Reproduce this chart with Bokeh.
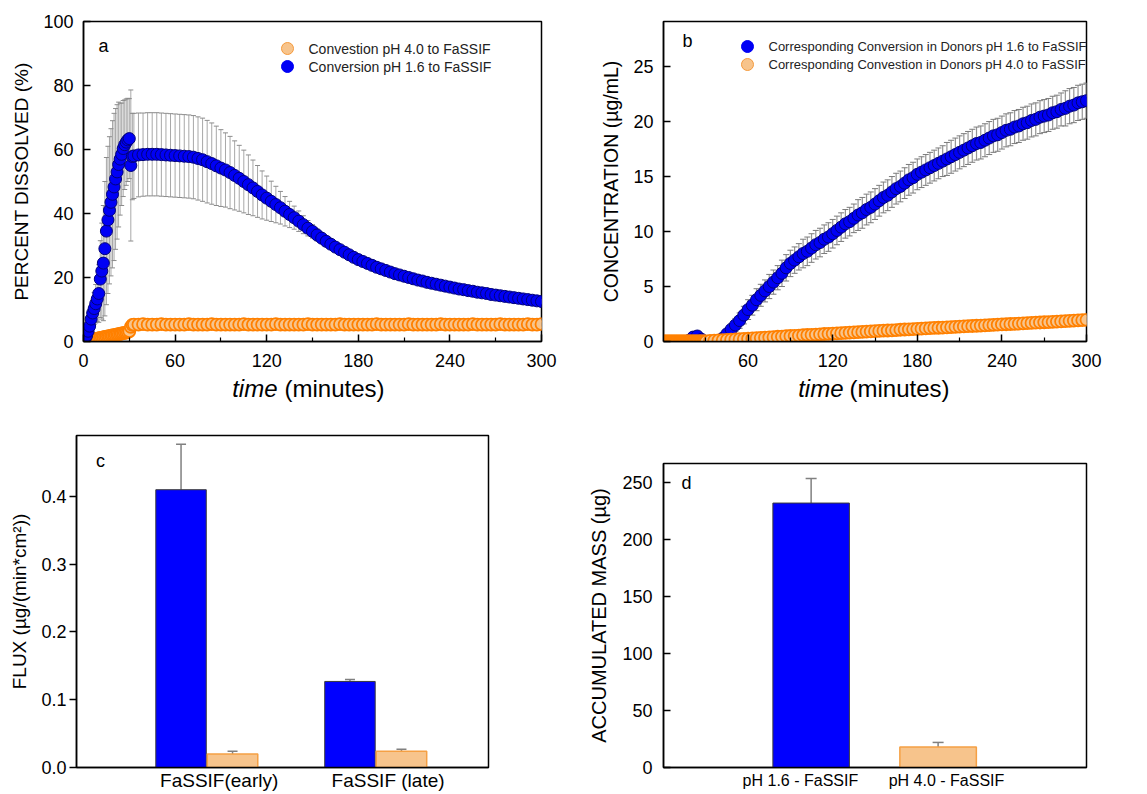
from bokeh.plotting import figure
from bokeh.layouts import column, row
from bokeh.models import (Range1d, FixedTicker, Whisker, TeeHead, ColumnDataSource,
                          Label, NumeralTickFormatter)
from bokeh.core.properties import value
from bokeh.embed import file_html
from bokeh.resources import INLINE

FONT = "Liberation Sans"

# ---------------- DATA ----------------
# Panel a : percent dissolved vs time (minutes)
a_t_early = list(range(0, 31))
a_blue_early = [0.0, 0.6, 1.8, 3.2, 4.8, 7.0, 8.9, 10.3, 11.8, 13.3, 15.0, 19.5, 22.0, 24.5, 29.0,
                34.5, 38.0, 41.0, 43.5, 46.0, 48.3, 50.8, 53.0, 55.3, 57.0, 58.5, 60.3, 61.5, 62.3,
                63.0, 63.4]
a_blue_early_err = [0.0, 0.5, 1.0, 1.5, 2.0, 3.0, 4.0, 5.0, 6.0, 7.0, 9.0,
                    12.0, 15.0, 18.0, 21.0, 23.0, 23.0, 23.0, 23.0, 23.0, 23.0,
                    22.0, 21.0, 19.5, 17.5, 16.0, 15.0, 14.0, 13.5, 13.0, 12.5]
a_orange_early = [0.0, 0.1, 0.2, 0.3, 0.4, 0.5, 0.6, 0.7, 0.8, 0.9, 1.0, 1.1, 1.2, 1.3, 1.4, 1.5,
                  1.6, 1.7, 1.8, 1.9, 2.0, 2.1, 2.2, 2.3, 2.4, 2.5, 2.6, 2.7, 2.8, 2.9, 3.2]
a_t_jump = [31, 32]
a_blue_jump = [55.0, 57.8]
a_blue_jump_err = [23.6, 13.5]
a_orange_jump = [4.6, 5.2]
a_t_late = list(range(33, 301, 3))
a_blue_late = [58.0, 58.3, 58.4, 58.5, 58.5, 58.5, 58.4, 58.3, 58.2, 58.1,
               58.0, 57.9, 57.8, 57.6, 57.2, 56.8, 56.2, 55.6, 54.9, 54.2,
               53.6, 52.8, 51.9, 51.0, 50.0, 49.0, 48.0, 46.9, 45.8, 44.8,
               43.8, 42.8, 41.8, 40.7, 39.7, 38.7, 37.6, 36.5, 35.4, 34.4,
               33.3, 32.3, 31.3, 30.4, 29.5, 28.7, 27.9, 27.1, 26.3, 25.6,
               25.0, 24.4, 23.8, 23.2, 22.7, 22.2, 21.7, 21.2, 20.8, 20.4,
               20.0, 19.6, 19.2, 18.9, 18.5, 18.2, 17.9, 17.6, 17.3, 17.0,
               16.7, 16.4, 16.2, 15.9, 15.7, 15.4, 15.2, 15.0, 14.7, 14.5,
               14.3, 14.1, 13.9, 13.7, 13.5, 13.3, 13.1, 12.9, 12.7, 12.5]
a_blue_late_err = [13.3, 13.1, 13.0, 13.0, 13.0, 13.0, 13.0, 13.0, 13.0, 13.0,
                   13.0, 13.0, 13.0, 13.0, 13.0, 13.0, 12.9, 12.7, 12.4, 12.0,
                   11.6, 11.3, 10.8, 10.3, 9.8, 9.3, 8.7, 8.1, 7.5, 6.9,
                   6.3, 5.7, 5.1, 4.6, 4.1, 3.6, 3.2, 2.8, 2.4, 2.1,
                   1.9, 1.7, 1.5, 1.4, 1.3, 1.2, 1.1, 1.0, 1.0, 0.9,
                   0.9, 0.9, 0.9, 0.8, 0.8, 0.8, 0.8, 0.8, 0.8, 0.8,
                   0.8, 0.7, 0.7, 0.7, 0.7, 0.7, 0.7, 0.7, 0.7, 0.7,
                   0.7, 0.7, 0.6, 0.6, 0.6, 0.6, 0.6, 0.6, 0.6, 0.6,
                   0.6, 0.6, 0.6, 0.6, 0.6, 0.6, 0.6, 0.6, 0.6, 0.6]
a_orange_late = [5.3, 5.3, 5.4, 5.3, 5.3, 5.3, 5.4, 5.3, 5.3, 5.3,
                 5.3, 5.3, 5.4, 5.3, 5.3, 5.3, 5.3, 5.4, 5.3, 5.3,
                 5.3, 5.3, 5.3, 5.3, 5.4, 5.3, 5.3, 5.3, 5.3, 5.3,
                 5.3, 5.4, 5.3, 5.3, 5.3, 5.3, 5.3, 5.3, 5.4, 5.3,
                 5.3, 5.3, 5.3, 5.3, 5.3, 5.4, 5.3, 5.3, 5.3, 5.3,
                 5.3, 5.3, 5.3, 5.4, 5.3, 5.3, 5.3, 5.3, 5.3, 5.3,
                 5.4, 5.3, 5.3, 5.3, 5.3, 5.3, 5.3, 5.4, 5.3, 5.3,
                 5.3, 5.3, 5.3, 5.3, 5.4, 5.3, 5.3, 5.3, 5.3, 5.3,
                 5.4, 5.3, 5.3, 5.3, 5.3, 5.3, 5.4, 5.3, 5.3, 5.4]
a_series_names = ["Convestion pH 4.0  to FaSSIF", "Conversion pH 1.6  to FaSSIF"]

# Panel b : concentration in donors vs time (minutes)
b_t = list(range(0, 301, 3))
b_blue = [0.0, 0.0, 0.0, 0.0, 0.0, 0.0, 0.1, 0.4, 0.5, 0.2, 0.0,
          -0.2, -0.3, -0.1, 0.3, 0.7, 1.1, 1.5, 1.9, 2.4, 2.9,
          3.3, 3.8, 4.2, 4.6, 5.0, 5.4, 5.8, 6.2, 6.7, 7.1,
          7.4, 7.7, 8.0, 8.2, 8.5, 8.8, 9.0, 9.3, 9.5, 9.8,
          10.1, 10.4, 10.7, 10.9, 11.2, 11.5, 11.7, 12.0, 12.2, 12.5,
          12.8, 13.1, 13.3, 13.6, 13.9, 14.1, 14.4, 14.7, 14.9, 15.2,
          15.4, 15.6, 15.8, 16.0, 16.2, 16.4, 16.6, 16.8, 17.0, 17.2,
          17.4, 17.6, 17.8, 18.0, 18.1, 18.3, 18.5, 18.7, 18.8, 19.0,
          19.2, 19.3, 19.5, 19.6, 19.8, 19.9, 20.1, 20.2, 20.4, 20.5,
          20.6, 20.8, 20.9, 21.1, 21.2, 21.4, 21.5, 21.7, 21.8, 21.9]
b_blue_err = [0.1, 0.1, 0.1, 0.1, 0.1, 0.1, 0.1, 0.1, 0.1, 0.1, 0.1,
              0.1, 0.1, 0.2, 0.3, 0.4, 0.5, 0.6, 0.7, 0.8, 0.9,
              0.9, 1.0, 1.0, 1.0, 1.1, 1.1, 1.1, 1.2, 1.2, 1.2,
              1.2, 1.2, 1.3, 1.3, 1.3, 1.3, 1.3, 1.3, 1.3, 1.3,
              1.3, 1.3, 1.3, 1.3, 1.3, 1.4, 1.4, 1.4, 1.4, 1.4,
              1.4, 1.4, 1.4, 1.4, 1.4, 1.4, 1.4, 1.4, 1.4, 1.4,
              1.4, 1.4, 1.4, 1.4, 1.4, 1.4, 1.5, 1.5, 1.5, 1.5,
              1.5, 1.5, 1.5, 1.5, 1.5, 1.5, 1.5, 1.5, 1.5, 1.5,
              1.5, 1.5, 1.5, 1.5, 1.5, 1.5, 1.5, 1.5, 1.5, 1.5,
              1.5, 1.5, 1.5, 1.5, 1.6, 1.6, 1.6, 1.6, 1.6, 1.6]
b_t_orange_early = list(range(0, 31))
b_orange_early = [0.0, 0.0, 0.0, 0.0, 0.0, 0.0, 0.0, 0.0, 0.0, 0.0, 0.0,
                  0.0, 0.0, 0.0, 0.0, 0.0, 0.0, 0.0, 0.0, 0.0, 0.0,
                  0.0, 0.0, 0.0, 0.0, 0.0, 0.0, 0.0, 0.0, 0.0, 0.0]
b_t_orange_late = list(range(33, 301, 3))
b_orange_late = [0.05, 0.08, 0.10, 0.12, 0.15, 0.17, 0.19, 0.21, 0.23, 0.25,
                 0.28, 0.30, 0.33, 0.35, 0.38, 0.40, 0.43, 0.45, 0.48, 0.50,
                 0.52, 0.54, 0.57, 0.59, 0.61, 0.63, 0.65, 0.68, 0.70, 0.72,
                 0.74, 0.76, 0.79, 0.81, 0.83, 0.85, 0.87, 0.90, 0.92, 0.94,
                 0.96, 0.98, 1.00, 1.02, 1.04, 1.07, 1.09, 1.11, 1.13, 1.15,
                 1.17, 1.19, 1.21, 1.23, 1.25, 1.27, 1.29, 1.31, 1.33, 1.35,
                 1.37, 1.39, 1.41, 1.43, 1.45, 1.47, 1.49, 1.51, 1.53, 1.55,
                 1.57, 1.59, 1.61, 1.63, 1.65, 1.67, 1.69, 1.71, 1.73, 1.75,
                 1.77, 1.79, 1.81, 1.83, 1.85, 1.88, 1.90, 1.92, 1.95, 1.97]
b_series_names = ["Corresponding Conversion in Donors pH 1.6 to FaSSIF",
                  "Corresponding Convestion in Donors pH 4.0  to FaSSIF"]

# Panel c : flux
c_categories = ["FaSSIF(early)", "FaSSIF (late)"]
c_flux_blue = [0.410, 0.127]
c_flux_blue_err = [0.067, 0.003]
c_flux_orange = [0.020, 0.024]
c_flux_orange_err = [0.004, 0.003]

# Panel d : accumulated mass
d_categories = ["pH 1.6 - FaSSIF", "pH 4.0 - FaSSIF"]
d_mass = [232.0, 18.0]
d_mass_err = [21.5, 4.0]

# ---------------- STYLE / LAYOUT ----------------
BLUE_FILL = "#0000f5"
BLUE_LINE = "#00007a"
ORANGE_FILL = "#f7c48c"
ORANGE_LINE = "#ff8000"
LEG_ORANGE_LINE = "#f59a3c"
ERR_A = "#a8a8a8"
ERR_B = "#949494"

# frames in page pixels
FA = dict(left=83, top=21, right=541, bottom=341, xr=(0, 300), yr=(0, 100))
FB = dict(left=663, top=21, right=1086, bottom=341, xr=(0, 300), yr=(0, 29.1))
FC = dict(left=76, top=435, right=488, bottom=767, xr=(0, 8), yr=(0, 0.49))
FD = dict(left=663, top=463, right=1086, bottom=767, xr=(0, 5.53), yr=(0, 266.7))
LEFT_W, RIGHT_X, RIGHT_END = 580, 580, 1145
TOP_END, STRIP_END, PAGE_END = 375, 402, 792


def to_data(fr, px, py):
    x = fr["xr"][0] + (px - fr["left"]) / (fr["right"] - fr["left"]) * (fr["xr"][1] - fr["xr"][0])
    y = fr["yr"][0] + (fr["bottom"] - py) / (fr["bottom"] - fr["top"]) * (fr["yr"][1] - fr["yr"][0])
    return x, y


def make_fig(fr, fig_left, fig_top, fig_right, fig_bottom):
    p = figure(frame_width=fr["right"] - fr["left"], frame_height=fr["bottom"] - fr["top"],
               min_border_left=fr["left"] - fig_left, min_border_right=fig_right - fr["right"],
               min_border_top=fr["top"] - fig_top, min_border_bottom=fig_bottom - fr["bottom"],
               x_range=Range1d(*fr["xr"]), y_range=Range1d(*fr["yr"]),
               output_backend="svg", toolbar_location=None, tools="")
    p.grid.visible = False
    p.outline_line_color = "black"
    p.outline_line_width = 1.5
    p.outline_line_alpha = 1.0
    p.background_fill_color = "white"
    p.border_fill_color = "white"
    for ax in [p.xaxis[0], p.yaxis[0]]:
        ax.axis_line_color = "black"
        ax.axis_line_width = 1.5
        ax.major_tick_line_color = "black"
        ax.major_tick_line_width = 1.5
        ax.minor_tick_line_color = "black"
        ax.minor_tick_line_width = 1.2
        ax.major_label_text_font = FONT
        ax.major_label_text_font_size = "18px"
        ax.major_label_text_color = "black"
        ax.axis_label_text_font = FONT
        ax.axis_label_text_font_style = "normal"
        ax.axis_label_text_color = "black"
    return p


def make_strip(width, height):
    s = figure(frame_width=width, frame_height=height, min_border=0, min_border_left=0,
               min_border_right=0, min_border_top=0, min_border_bottom=0,
               x_range=Range1d(0, width), y_range=Range1d(height, 0),
               x_axis_type=None, y_axis_type=None,
               output_backend="svg", toolbar_location=None, tools="")
    s.grid.visible = False
    s.outline_line_color = None
    s.background_fill_color = "white"
    s.border_fill_color = "white"
    return s


def text(p, fr, px, py, s, size, align="left", style="normal", color="black"):
    x, y = to_data(fr, px, py)
    p.add_layout(Label(x=x, y=y, text=s, text_font=FONT, text_font_size=size,
                       text_font_style=style, text_align=align, text_baseline="middle",
                       text_color=color))


def legend_marker(p, fr, px, py, fill, line):
    x, y = to_data(fr, px, py)
    p.scatter(x=[x], y=[y], size=12, marker="circle", fill_color=fill, line_color=line, line_width=1)


def time_axis(p, labels, minor):
    ax = p.xaxis[0]
    ax.ticker = FixedTicker(ticks=labels, minor_ticks=minor)
    ax.major_tick_in = 7
    ax.major_tick_out = 0
    ax.minor_tick_in = 4
    ax.minor_tick_out = 0
    ax.major_label_standoff = 12


def time_title(s, right_of_time, left_of_minutes, cy):
    s.text(x=[right_of_time], y=[cy], text=["time"], text_font=value(FONT), text_font_size="24px",
           text_font_style="italic", text_align="right", text_baseline="middle", text_color="black")
    s.text(x=[left_of_minutes], y=[cy], text=["(minutes)"], text_font=value(FONT),
           text_font_size="24px", text_font_style="normal", text_align="left",
           text_baseline="middle", text_color="black")


# ---------------- PANEL A ----------------
pa = make_fig(FA, 0, 0, LEFT_W, TOP_END)
time_axis(pa, [0, 60, 120, 180, 240, 300], [30, 90, 150, 210, 270])
ya = pa.yaxis[0]
ya.ticker = FixedTicker(ticks=[0, 20, 40, 60, 80, 100])
ya.major_tick_in = 7
ya.major_tick_out = 0
ya.minor_tick_in = 0
ya.minor_tick_out = 0
ya.major_label_standoff = 10
ya.axis_label = "PERCENT DISSOLVED (%)"
ya.axis_label_text_font_size = "19px"
ya.axis_label_standoff = 8

a_t_all = a_t_early + a_t_jump + a_t_late
a_blue_all = a_blue_early + a_blue_jump + a_blue_late
a_err_all = a_blue_early_err + a_blue_jump_err + a_blue_late_err
a_orange_all = a_orange_early + a_orange_jump + a_orange_late
src_a_err = ColumnDataSource(dict(
    x=a_t_all,
    lower=[m - e for m, e in zip(a_blue_all, a_err_all)],
    upper=[m + e for m, e in zip(a_blue_all, a_err_all)]))
pa.add_layout(Whisker(source=src_a_err, base="x", lower="lower", upper="upper", dimension="height",
                      line_color=ERR_A, line_width=1, level="underlay",
                      upper_head=TeeHead(size=5, line_color="#8c8c8c", line_width=1),
                      lower_head=TeeHead(size=5, line_color="#8c8c8c", line_width=1)))
pa.scatter(x=a_t_all, y=a_orange_all, size=12, marker="circle", fill_color=ORANGE_FILL,
           line_color=ORANGE_LINE, line_width=1.8)
pa.scatter(x=a_t_all, y=a_blue_all, size=12, marker="circle", fill_color=BLUE_FILL,
           line_color=BLUE_LINE, line_width=1)

legend_marker(pa, FA, 287, 48, ORANGE_FILL, LEG_ORANGE_LINE)
legend_marker(pa, FA, 287, 66, BLUE_FILL, BLUE_FILL)
text(pa, FA, 308, 48, a_series_names[0], "14px", color="#222222")
text(pa, FA, 308, 66, a_series_names[1], "14px", color="#222222")
text(pa, FA, 103, 45, "a", "18px", align="center")

# ---------------- PANEL B ----------------
pb = make_fig(FB, RIGHT_X, 0, RIGHT_END, TOP_END)
time_axis(pb, [60, 120, 180, 240, 300], [30, 90, 150, 210, 270])
yb = pb.yaxis[0]
yb.ticker = FixedTicker(ticks=[0, 5, 10, 15, 20, 25])
yb.major_tick_in = 7
yb.major_tick_out = 0
yb.minor_tick_in = 0
yb.minor_tick_out = 0
yb.major_label_standoff = 10
yb.axis_label = "CONCENTRATION (µg/mL)"
yb.axis_label_text_font_size = "19.5px"
yb.axis_label_standoff = 8

src_b_err = ColumnDataSource(dict(
    x=b_t,
    lower=[m - e for m, e in zip(b_blue, b_blue_err)],
    upper=[m + e for m, e in zip(b_blue, b_blue_err)]))
pb.add_layout(Whisker(source=src_b_err, base="x", lower="lower", upper="upper", dimension="height",
                      line_color=ERR_B, line_width=1.2, level="underlay",
                      upper_head=TeeHead(size=6, line_color="#7a7a7a", line_width=1),
                      lower_head=TeeHead(size=6, line_color="#7a7a7a", line_width=1)))
pb.scatter(x=b_t, y=b_blue, size=12, marker="circle", fill_color=BLUE_FILL,
           line_color=BLUE_LINE, line_width=1)
pb.scatter(x=b_t_orange_early + b_t_orange_late, y=b_orange_early + b_orange_late, size=12,
           marker="circle", fill_color=ORANGE_FILL, line_color=ORANGE_LINE, line_width=1.8)

legend_marker(pb, FB, 747, 46, BLUE_FILL, BLUE_FILL)
legend_marker(pb, FB, 747, 64, ORANGE_FILL, LEG_ORANGE_LINE)
text(pb, FB, 768, 46, b_series_names[0], "13px", color="#222222")
text(pb, FB, 768, 64, b_series_names[1], "13px", color="#222222")
text(pb, FB, 687, 40, "b", "18px", align="center")

# ---------------- X-AXIS TITLES (strip under the top row) ----------------
strip_h = STRIP_END - TOP_END
sa = make_strip(LEFT_W, strip_h)
time_title(sa, 277, 284, 388 - TOP_END)
sb = make_strip(RIGHT_END - RIGHT_X, strip_h)
time_title(sb, 843 - RIGHT_X, 849 - RIGHT_X, 388 - TOP_END)

# ---------------- PANEL C ----------------
pc = make_fig(FC, 0, STRIP_END, LEFT_W, PAGE_END)
c_group_center = [2.53 + 3.28 * i for i in range(len(c_categories))]
c_label_x = [2.77, 6.05]
c_blue_x = [c - 0.5 for c in c_group_center]
c_orange_x = [c + 0.5 for c in c_group_center]
pc.vbar(x=c_blue_x, top=c_flux_blue, bottom=0, width=0.98, fill_color="#0000ff",
        line_color="#3a3a3a", line_width=1)
pc.vbar(x=c_orange_x, top=c_flux_orange, bottom=0, width=0.98, fill_color=ORANGE_FILL,
        line_color="#f5a044", line_width=1.5)
src_c = ColumnDataSource(dict(
    x=c_blue_x + c_orange_x,
    lower=c_flux_blue + c_flux_orange,
    upper=[v + e for v, e in zip(c_flux_blue + c_flux_orange, c_flux_blue_err + c_flux_orange_err)]))
pc.add_layout(Whisker(source=src_c, base="x", lower="lower", upper="upper", dimension="height",
                      line_color="#808080", line_width=1.5, lower_head=None,
                      upper_head=TeeHead(size=10, line_color="#808080", line_width=1.5)))
xc = pc.xaxis[0]
xc.ticker = FixedTicker(ticks=c_label_x)
xc.major_label_overrides = {c_label_x[i]: c_categories[i] for i in range(len(c_categories))}
xc.major_tick_in = 0
xc.major_tick_out = 0
xc.minor_tick_in = 0
xc.minor_tick_out = 0
xc.major_label_text_font_size = "19px"
xc.major_label_standoff = 2
yc = pc.yaxis[0]
yc.ticker = FixedTicker(ticks=[0.0, 0.1, 0.2, 0.3, 0.4])
yc.formatter = NumeralTickFormatter(format="0.0")
yc.major_tick_in = 0
yc.major_tick_out = 7
yc.minor_tick_in = 0
yc.minor_tick_out = 0
yc.major_label_standoff = 3
yc.axis_label = "FLUX (µg/(min*cm²))"
yc.axis_label_text_font_size = "19px"
yc.axis_label_standoff = 8
text(pc, FC, 100, 460, "c", "18px", align="center")

# ---------------- PANEL D ----------------
pd_ = make_fig(FD, RIGHT_X, STRIP_END, RIGHT_END, PAGE_END)
d_bar_x = [1.93, 3.59]
d_label_x = [1.79, 3.70]
pd_.vbar(x=d_bar_x[:1], top=d_mass[:1], bottom=0, width=1.0, fill_color="#0000ff",
         line_color="#3a3a3a", line_width=1)
pd_.vbar(x=d_bar_x[1:], top=d_mass[1:], bottom=0, width=1.0, fill_color=ORANGE_FILL,
         line_color="#f5a044", line_width=1.5)
src_d = ColumnDataSource(dict(
    x=d_bar_x,
    lower=[v - e for v, e in zip(d_mass, d_mass_err)],
    upper=[v + e for v, e in zip(d_mass, d_mass_err)]))
pd_.add_layout(Whisker(source=src_d, base="x", lower="lower", upper="upper", dimension="height",
                       line_color="#808080", line_width=1.5,
                       upper_head=TeeHead(size=11, line_color="#808080", line_width=1.5),
                       lower_head=TeeHead(size=11, line_color="#808080", line_width=1.5)))
xd = pd_.xaxis[0]
xd.ticker = FixedTicker(ticks=d_label_x)
xd.major_label_overrides = {d_label_x[i]: d_categories[i] for i in range(len(d_categories))}
xd.major_tick_in = 0
xd.major_tick_out = 0
xd.minor_tick_in = 0
xd.minor_tick_out = 0
xd.major_label_text_font_size = "16px"
xd.major_label_standoff = 4
yd = pd_.yaxis[0]
yd.ticker = FixedTicker(ticks=[0, 50, 100, 150, 200, 250])
yd.major_tick_in = 7
yd.major_tick_out = 0
yd.minor_tick_in = 0
yd.minor_tick_out = 0
yd.major_label_standoff = 11
yd.axis_label = "ACCUMULATED MASS (µg)"
yd.axis_label_text_font_size = "20px"
yd.axis_label_standoff = 9
text(pd_, FD, 686, 482, "d", "18px", align="center")

layout = column(row(column(pa), column(pb)),
                row(column(sa), column(sb)),
                row(column(pc), column(pd_)))
open("out.html", "w").write(file_html(layout, INLINE))
